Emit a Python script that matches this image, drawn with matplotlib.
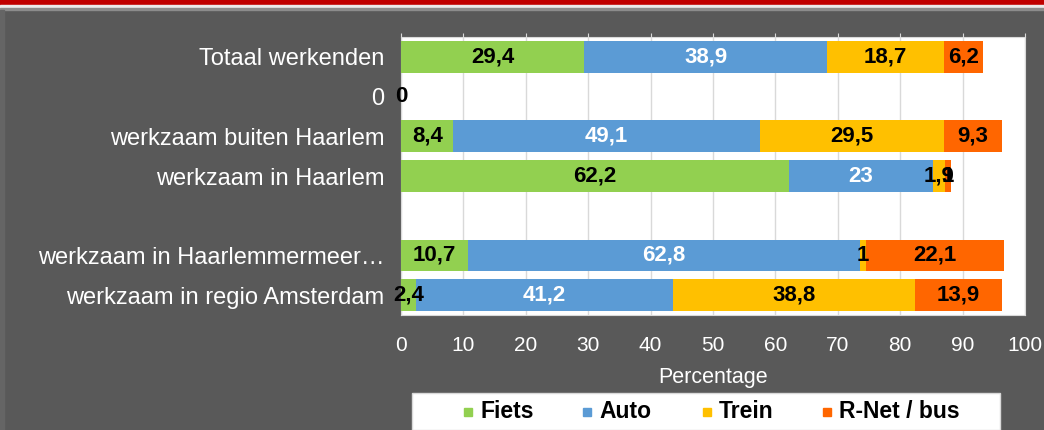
import matplotlib
matplotlib.use("Agg")
import matplotlib.pyplot as plt
from matplotlib.patches import Rectangle

plt.rcParams["font.family"] = ["Liberation Sans", "DejaVu Sans"]

# ---------------------------------------------------------------- data
categories = ["Totaal werkenden", "0", "werkzaam buiten Haarlem",
              "werkzaam in Haarlem", "", "werkzaam in Haarlemmermeer\u2026",
              "werkzaam in regio Amsterdam"]
series = ["Fiets", "Auto", "Trein", "R-Net / bus"]
fiets = [29.4, 0, 8.4, 62.2, 0, 10.7, 2.4]
auto = [38.9, 0, 49.1, 23, 0, 62.8, 41.2]
trein = [18.7, 0, 29.5, 1.9, 0, 1, 38.8]
rnet = [6.2, 0, 9.3, 1, 0, 22.1, 13.9]
has_label = [True, True, True, True, False, True, True]
ticks = [0, 10, 20, 30, 40, 50, 60, 70, 80, 90, 100]

colors = ["#92D050", "#5B9BD5", "#FFC000", "#FF6600"]
label_colors = ["black", "white", "black", "black"]
BG = "#595959"

# ---------------------------------------------------------------- figure
W, H = 1044, 430
fig = plt.figure(figsize=(W / 100, H / 100), dpi=100, facecolor=BG)

# red band at top + light separator
fig.patches.append(Rectangle((0, 1 - 5 / H), 1, 5 / H, transform=fig.transFigure,
                             color="#C00000", zorder=0))
fig.patches.append(Rectangle((0, 1 - 8 / H), 1, 3 / H, transform=fig.transFigure,
                             color="#ececec", zorder=0))
fig.patches.append(Rectangle((0, 1 - 10 / H), 1, 2 / H, transform=fig.transFigure,
                             color="#8c8c8c", zorder=0))
fig.patches.append(Rectangle((0, 0), 4 / W, 1 - 10 / H, transform=fig.transFigure,
                             color="#656565", zorder=0))

ax = fig.add_axes([401 / W, 1 - 315 / H, 624 / W, 278 / H])
ax.set_facecolor("white")

y = list(range(len(categories)))
left = [0] * len(categories)
for k, vals in enumerate([fiets, auto, trein, rnet]):
    bars = ax.barh(y, vals, left=left, height=0.8, color=colors[k],
                   label=series[k], zorder=3)
    for i, (b, v) in enumerate(zip(bars, vals)):
        if not has_label[i] or (v == 0 and k > 0):
            continue
        txt = f"{v:g}".replace(".", ",")
        ax.text(b.get_x() + b.get_width() / 2, b.get_y() + b.get_height() / 2,
                txt, ha="center", va="center", fontsize=16, fontweight="bold",
                color="black" if v == 0 else label_colors[k], zorder=4)
    left = [l + v for l, v in zip(left, vals)]

ax.set_ylim(len(categories) - 0.5, -0.5)
ax.set_xlim(0, 100)
ax.set_xticks(ticks)
ax.set_xticklabels([str(t) for t in ticks])
ax.set_yticks(y)
ax.set_yticklabels(categories)
ax.grid(axis="x", color="#d9d9d9", linewidth=1, zorder=0)
for s in ax.spines.values():
    s.set_color("#d9d9d9")
ax.tick_params(axis="x", top=True, bottom=False, labeltop=False, labelbottom=True,
               direction="out", length=3, color="#d9d9d9", pad=12,
               labelcolor="white", labelsize=15)
ax.tick_params(axis="y", length=0, pad=12, labelcolor="white", labelsize=17)
ax.set_xlabel("Percentage", color="white", fontsize=15.5, labelpad=9)

# legend box (cut off at bottom, like the original)
fig.patches.append(Rectangle((412 / W, 0), 588 / W, 37 / H, transform=fig.transFigure,
                             facecolor="white", edgecolor="#d9d9d9", zorder=1))
leg_x = [468, 587, 707, 827]
for k, name in enumerate(series):
    fig.patches.append(Rectangle(((leg_x[k] - 4) / W, (H - 416) / H), 8 / W, 8 / H,
                                 transform=fig.transFigure, color=colors[k], zorder=2))
    fig.text((leg_x[k] + 12) / W, (H - 412) / H, name, fontsize=16.5, fontweight="bold",
             color="black", ha="left", va="center", zorder=3)

fig.savefig("out.png", dpi=100, facecolor=BG)
